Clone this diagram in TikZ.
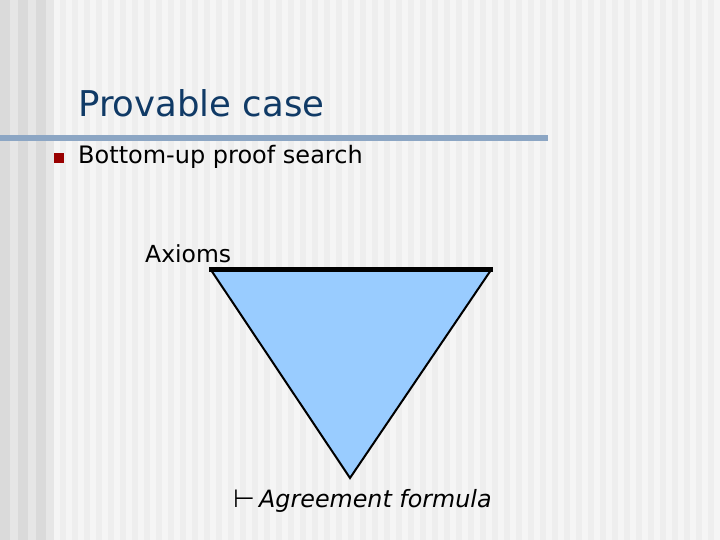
\documentclass[tikz,border=0pt]{standalone}
\usepackage{fontspec}
\setmainfont{DejaVu Sans}
\definecolor{bglight}{RGB}{245,245,245}
\definecolor{bgdark}{RGB}{238,238,238}
\definecolor{leftlight}{RGB}{230,230,230}
\definecolor{leftdark}{RGB}{218,218,218}
\definecolor{titleblue}{RGB}{16,58,102}
\definecolor{rulecol}{RGB}{140,166,196}
\definecolor{bulletred}{RGB}{153,0,0}
\definecolor{trifill}{RGB}{153,204,255}
\tikzset{
  txt/.style={anchor=base west, inner sep=0pt, text=black},
  titletxt/.style={anchor=base west, inner sep=0pt, text=titleblue, font=\fontsize{35.5}{42}\selectfont},
  bodytxt/.style={txt, font=\fontsize{24}{28}\selectfont},
}
\begin{document}
\begin{tikzpicture}[x=1pt,y=-1pt]
\useasboundingbox (0,0) rectangle (720,540);
% background
\fill[bglight] (0,0) rectangle (720,540);
\foreach \i in {0,...,55} \fill[bgdark] ({60+12*\i},0) rectangle ++(6,540);
\fill[leftlight] (0,0) rectangle (54,540);
\foreach \i in {0,1,2} \fill[leftdark] ({18*\i},0) rectangle ++(10,540);
% title and rule
\node[titletxt] (title) at (78,117) {Provable case};
\fill[rulecol] (0,135) rectangle (548,141);
% bullet
\fill[bulletred] (54,153) rectangle (64,163);
\node[bodytxt] (bullet) at (78,164) {Bottom-up proof search};
% triangle
\coordinate (tl) at (211,270);
\coordinate (tr) at (491,270);
\coordinate (ap) at (350,478);
\filldraw[fill=trifill, draw=black, line width=2pt, line join=miter] (tl) -- (tr) -- (ap) -- cycle;
\draw[line width=5pt] (209,269.5) -- (493,269.5);
\node[bodytxt, font=\fontsize{23.5}{28}\selectfont] (axioms) at (145,262) {Axioms};
\node[txt, font=\fontsize{25}{28}\selectfont] (turn) at (233,507) {⊢};
\node[bodytxt, font=\fontsize{23.8}{28}\selectfont\itshape] (goal) at (259,507) {Agreement formula};
\end{tikzpicture}
\end{document}
